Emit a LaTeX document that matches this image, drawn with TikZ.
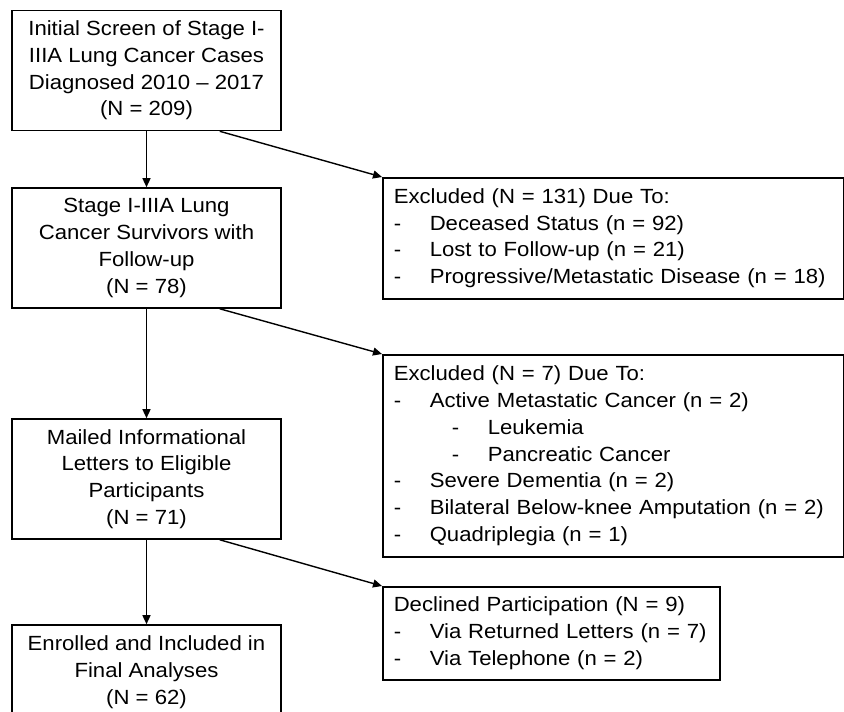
\documentclass[tikz,border=0pt]{standalone}
\usepackage{fontspec}
\setmainfont{Liberation Sans}[FakeStretch=1.08]
\usetikzlibrary{arrows.meta,calc}
\newcommand{\itm}[1]{\makebox[36pt][l]{-}#1}
\newcommand{\subitm}[1]{\hspace*{58pt}\makebox[36pt][l]{-}#1}
\begin{document}
\begin{tikzpicture}[x=1pt,y=-1pt,
  every node/.style={font=\fontsize{20.5}{26.7}\selectfont},
  leftbox/.style={draw, line width=1.6pt, minimum width=269pt, inner sep=0pt, align=center},
  rightbox/.style={draw, line width=1.5pt, anchor=north west, inner xsep=11pt, inner ysep=0pt, align=left},
  arr/.style={line width=1.4pt, -{Triangle[length=9pt,width=8pt]}}]
\useasboundingbox (0,0) rectangle (844,712);
\begin{scope}
\clip (0,0) rectangle (844,712);
\node[leftbox, minimum height=120pt] (b1) at (146.5,70.5) {Initial Screen of Stage I-\\IIIA Lung Cancer Cases\\Diagnosed 2010 – 2017\\(N = 209)};
\node[leftbox, minimum height=120pt] (b2) at (146.5,248) {Stage I-IIIA Lung\\Cancer Survivors with\\Follow-up\\(N = 78)};
\node[leftbox, minimum height=120pt] (b3) at (146.5,479) {Mailed Informational\\Letters to Eligible\\Participants\\(N = 71)};
\node[leftbox, minimum height=94pt] (b4) at (146.5,672) {Enrolled and Included in\\Final Analyses\\(N = 62)};

\node[rightbox, text width=439pt, minimum height=121pt] (e1) at (382,177) {Excluded (N = 131) Due To:\\\itm{Deceased Status (n = 92)}\\\itm{Lost to Follow-up (n = 21)}\\\itm{Progressive/Metastatic Disease (n = 18)}};
\node[rightbox, text width=439pt, minimum height=202pt] (e2) at (382,354) {Excluded (N = 7) Due To:\\\itm{Active Metastatic Cancer (n = 2)}\\\subitm{Leukemia}\\\subitm{Pancreatic Cancer}\\\itm{Severe Dementia (n = 2)}\\\itm{Bilateral Below-knee Amputation (n = 2)}\\\itm{Quadriplegia (n = 1)}};
\node[rightbox, text width=315pt, minimum height=93pt] (d1) at (382,586) {Declined Participation (N = 9)\\\itm{Via Returned Letters (n = 7)}\\\itm{Via Telephone (n = 2)}};

\draw[arr] (b1.south) -- (b2.north);
\draw[arr] (b2.south) -- (b3.north);
\draw[arr] (b3.south) -- (b4.north);
\draw[arr] ([xshift=-62pt]b1.south east) -- (e1.north west);
\draw[arr] ([xshift=-62pt]b2.south east) -- (e2.north west);
\draw[arr] ([xshift=-62pt]b3.south east) -- (d1.north west);
\end{scope}
\end{tikzpicture}
\end{document}
